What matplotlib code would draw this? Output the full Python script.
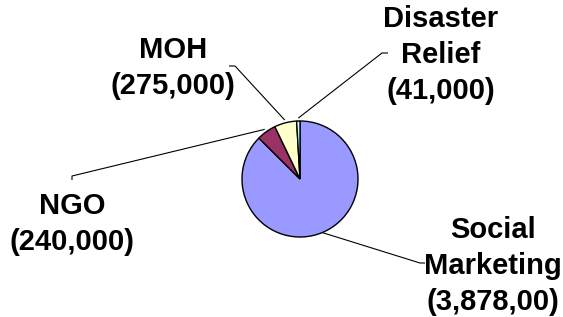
import numpy as np
import matplotlib
matplotlib.use("Agg")
import matplotlib.pyplot as plt

# data
names = ["Social\nMarketing", "NGO", "MOH", "Disaster\nRelief"]
values = [3878000, 240000, 275000, 41000]
value_text = ["(3,878,00)", "(240,000)", "(275,000)", "(41,000)"]
colors = ["#9999FF", "#993366", "#FFFFCC", "#CCFFFF"]
explode = [0, 0.05, 0.05, 0.05]

W, H = 563, 317


def py(y):
    # pixel row (from top) -> data y
    return H - y


fig = plt.figure(figsize=(W / 100, H / 100), dpi=100)
ax = fig.add_axes([0, 0, 1, 1])

cx, cy, r = 300, py(179), 58
wedges, _ = ax.pie(values, colors=colors, explode=explode, startangle=90,
                   counterclock=False, center=(cx, cy), radius=r,
                   wedgeprops=dict(edgecolor="black", linewidth=1.0))
ax.set_xlim(0, W)
ax.set_ylim(0, H)
ax.set_aspect("equal")
ax.axis("off")

# label positions (pixels) and leader line ends
label_pos = [(493, 266), (72, 224), (173, 68), (441, 55)]
line_ends = [[(420, 263), (425, 263)],
             [(72, 176), (72, 180)],
             [(235, 66), (229, 66)],
             [(382, 53), (388, 53)]]

for i, w in enumerate(wedges):
    mid = np.deg2rad((w.theta1 + w.theta2) / 2)
    off = explode[i] * r
    ex = cx + (r + off) * np.cos(mid)
    ey = cy + (r + off) * np.sin(mid)
    pts = [(ex, ey)] + [(x, py(y)) for x, y in line_ends[i]]
    if i == 1:
        pts = [(ex, ey), (line_ends[1][1][0], py(line_ends[1][0][1])),
               (line_ends[1][1][0], py(line_ends[1][1][1]))]
    xs, ys = zip(*pts)
    ax.plot(xs, ys, color="black", linewidth=0.8, solid_capstyle="butt")
    lx, ly = label_pos[i]
    ax.text(lx, py(ly), names[i] + "\n" + value_text[i], ha="center",
            va="center", fontsize=21, fontweight="bold",
            family=["Liberation Sans", "DejaVu Sans"], linespacing=1.36)

fig.savefig("out.png", dpi=100)
